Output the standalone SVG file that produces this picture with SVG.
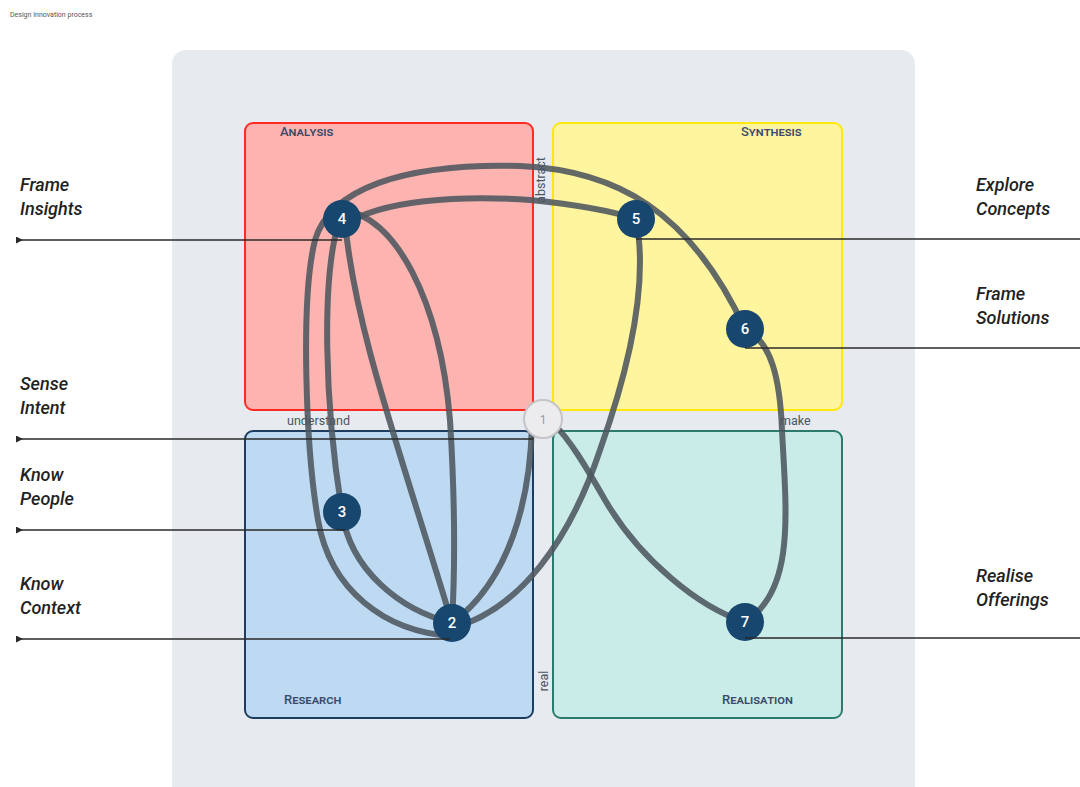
<svg xmlns="http://www.w3.org/2000/svg" width="1080" height="787" viewBox="0 0 1080 787">
  <style>
    .title { font-family: Roboto, "Liberation Sans", sans-serif; font-size: 7px; fill: #555; }
    .side { font-family: Roboto, "Liberation Sans", sans-serif; font-style: italic; font-weight: 500; font-size: 18px; fill: #222; }
    .quad { font-family: Roboto, "Liberation Sans", sans-serif; font-variant: small-caps; font-weight: 500; font-size: 13px; fill: #3b4a6b; }
    .axis { font-family: Roboto, "Liberation Sans", sans-serif; font-size: 12.5px; fill: #4a5560; }
    .flow { fill: none; stroke: #4d575f; stroke-width: 6; stroke-linecap: round; stroke-opacity: 0.88; }
    .lead { fill: none; stroke: #2a2a2a; stroke-width: 1.5; }
    .node circle { fill: #17466e; }
    .node text { font-family: Roboto, "Liberation Sans", sans-serif; font-size: 15px; font-weight: 500; fill: #fff; text-anchor: middle; }
  </style>
  <defs>
    <marker id="tick" viewBox="0 0 10 10" refX="0" refY="5" markerWidth="7" markerHeight="7" orient="auto" markerUnits="userSpaceOnUse">
      <path d="M0,0 L10,5 L0,10 z" fill="#2a2a2a"/>
    </marker>
  </defs>

  <rect width="1080" height="787" fill="#ffffff"/>
  <text class="title" x="10" y="17">Design Innovation process</text>

  <!-- backing panel -->
  <rect x="172" y="50" width="743" height="760" rx="14" fill="#e7eaef"/>

  <!-- quadrants -->
  <g id="analysis">
    <rect x="245" y="123" width="288" height="287" rx="8" fill="#fdb4b1" stroke="#ff2a22" stroke-width="2"/>
    <text class="quad" x="280" y="136">Analysis</text>
  </g>
  <g id="synthesis">
    <rect x="553" y="123" width="289" height="287" rx="8" fill="#fff59e" stroke="#ffe80a" stroke-width="2"/>
    <text class="quad" x="741" y="136">Synthesis</text>
  </g>
  <g id="research">
    <rect x="245" y="431" width="288" height="287" rx="8" fill="#bddaf2" stroke="#1c3d60" stroke-width="2"/>
    <text class="quad" x="284" y="704">Research</text>
  </g>
  <g id="realisation">
    <rect x="553" y="431" width="289" height="287" rx="8" fill="#c9ece8" stroke="#2b7b6d" stroke-width="2"/>
    <text class="quad" x="722" y="704">Realisation</text>
  </g>

  <!-- axis labels -->
  <text class="axis" x="287" y="425">understand</text>
  <text class="axis" x="780" y="425">make</text>
  <text class="axis" transform="translate(545 180) rotate(-90)" text-anchor="middle">abstract</text>
  <text class="axis" transform="translate(548 681) rotate(-90)" text-anchor="middle">real</text>

  <!-- flow connectors -->
  <g id="connectors">
    <path class="flow" d="M452 636 C385 632 330 590 318 520 C306 450 300 300 315 240 C330 190 400 163 520 166 C615 170 690 210 745 329"/>
    <path class="flow" d="M345 225 C380 200 460 195 530 200 C580 205 615 212 636 219"/>
    <path class="flow" d="M338 225 C322 280 324 400 342 512"/>
    <path class="flow" d="M342 512 C350 570 400 610 452 623"/>
    <path class="flow" d="M345 222 C355 330 400 450 452 623"/>
    <path class="flow" d="M342 210 C395 215 440 300 450 420 C455 500 455 570 452 623"/>
    <path class="flow" d="M532 425 C530 500 510 580 452 623"/>
    <path class="flow" d="M452 628 C520 610 570 540 600 450 C625 380 650 290 636 219"/>
    <path class="flow" d="M745 329 C772 342 780 380 782 430 C786 510 796 590 745 622"/>
    <path class="flow" d="M745 622 C700 608 640 560 605 500 C585 465 570 440 553 423"/>
  </g>

  <!-- start point -->
  <g id="node-1">
    <circle cx="543" cy="419" r="19" fill="#ececef" stroke="#c4c4c8" stroke-width="2"/>
    <text x="543" y="424" text-anchor="middle" font-family="Roboto, 'Liberation Sans', sans-serif" font-size="12" fill="#9a9a9e">1</text>
  </g>

  <g id="node-2" class="node"><circle cx="452" cy="623" r="19"/><text x="452" y="628">2</text></g>
  <g id="node-3" class="node"><circle cx="342" cy="512" r="19"/><text x="342" y="517">3</text></g>
  <g id="node-4" class="node"><circle cx="342" cy="219" r="19"/><text x="342" y="224">4</text></g>
  <g id="node-5" class="node"><circle cx="636" cy="219" r="19"/><text x="636" y="224">5</text></g>
  <g id="node-6" class="node"><circle cx="745" cy="329" r="19"/><text x="745" y="334">6</text></g>
  <g id="node-7" class="node"><circle cx="745" cy="622" r="19"/><text x="745" y="627">7</text></g>

  <!-- leader lines to stage labels -->
  <g id="leaders">
    <path class="lead" d="M16 240 L342 240" marker-start="url(#tick)"/>
    <path class="lead" d="M16 439 L533 439" marker-start="url(#tick)"/>
    <path class="lead" d="M16 530 L345 530" marker-start="url(#tick)"/>
    <path class="lead" d="M16 639 L450 639" marker-start="url(#tick)"/>
    <path class="lead" d="M636 239 L1080 239"/>
    <path class="lead" d="M745 348 L1080 348"/>
    <path class="lead" d="M745 638 L1080 638"/>
  </g>

  <!-- stage labels -->
  <g id="label-frame-insights"><text class="side" x="20" y="191">Frame</text><text class="side" x="20" y="215">Insights</text></g>
  <g id="label-sense-intent"><text class="side" x="20" y="390">Sense</text><text class="side" x="20" y="414">Intent</text></g>
  <g id="label-know-people"><text class="side" x="20" y="481">Know</text><text class="side" x="20" y="505">People</text></g>
  <g id="label-know-context"><text class="side" x="20" y="590">Know</text><text class="side" x="20" y="614">Context</text></g>
  <g id="label-explore-concepts"><text class="side" x="976" y="191">Explore</text><text class="side" x="976" y="215">Concepts</text></g>
  <g id="label-frame-solutions"><text class="side" x="976" y="300">Frame</text><text class="side" x="976" y="324">Solutions</text></g>
  <g id="label-realise-offerings"><text class="side" x="976" y="582">Realise</text><text class="side" x="976" y="606">Offerings</text></g>
</svg>
